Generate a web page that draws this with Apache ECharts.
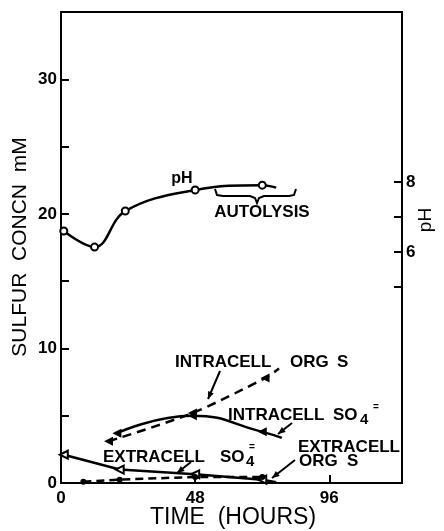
<!DOCTYPE html>
<html>
<head>
<meta charset="utf-8">
<script src="https://cdn.jsdelivr.net/npm/echarts@6/dist/echarts.min.js"></script>
<style>
  html, body { margin: 0; padding: 0; background: #fff; }
  #chart { width: 444px; height: 531px; }
</style>
</head>
<body>
<div id="chart"></div>
<script>
// values (hours, mM / pH)
const phHours = [1, 12, 23, 48, 72, 77]
const phValues = [6.6, 6.14, 7.17, 7.77, 7.91, 7.84]

const intraOrgHours = [17, 47, 73, 78]
const intraOrgValues = [3.1, 5.2, 7.8, 8.5]

const intraSo4Hours = [20, 47, 72, 79]
const intraSo4Values = [3.7, 5.0, 3.8, 3.35]

const extraSo4Hours = [1, 21, 48, 72, 77]
const extraSo4Values = [2.1, 1.0, 0.65, 0.25, 0.05]

const extraOrgHours = [8, 21, 48, 72]
const extraOrgValues = [0.1, 0.25, 0.45, 0.45]

const timeTicks = [0, 48, 96]
const sulfurLabels = [0, 10, 20, 30]
const phTicks = [5, 6, 7, 8]
const phLabels = [6, 8]

const FONT = 'Liberation Sans'

function pairs(xs, ys, lastBare) {
  return xs.map((x, i) => {
    let p = { value: [x, ys[i]] }
    if (lastBare && i === xs.length - 1) p.symbol = 'none'
    return p
  })
}

function txt(s, x, y, size, opts) {
  return Object.assign({
    type: 'text', x: x, y: y, z: 50,
    style: {
      text: s, fill: '#000',
      font: (opts && opts.weight || 'bold') + ' ' + size + 'px "' + FONT + '"',
      textAlign: (opts && opts.align) || 'left',
      textVerticalAlign: 'middle'
    }
  }, opts && opts.el || {})
}

function arrow(x1, y1, x2, y2) {
  let a = Math.atan2(y2 - y1, x2 - x1)
  let L = 8, w = 0.4
  return [
    { type: 'line', z: 50, shape: { x1: x1, y1: y1, x2: x2, y2: y2 }, style: { stroke: '#000', lineWidth: 2 } },
    { type: 'polygon', z: 50, shape: { points: [
      [x2, y2],
      [x2 - L * Math.cos(a - w), y2 - L * Math.sin(a - w)],
      [x2 - L * Math.cos(a + w), y2 - L * Math.sin(a + w)]
    ] }, style: { fill: '#000' } }
  ]
}

let chart = echarts.init(document.getElementById('chart'))

const option = {
  backgroundColor: '#fff',
  animation: false,
  grid: {
    left: 61, right: 42, top: 12, bottom: 48,
    show: true, borderColor: '#000', borderWidth: 2
  },
  xAxis: {
    type: 'value', min: 0, max: 122,
    axisLine: { show: false },
    splitLine: { show: false },
    axisTick: { show: true, inside: true, length: 8, lineStyle: { color: '#000', width: 2 }, customValues: [48, 96] },
    axisLabel: { customValues: timeTicks, color: '#000', fontFamily: FONT, fontWeight: 'bold', fontSize: 17, margin: 7 }
  },
  yAxis: [
    {
      type: 'value', min: 0, max: 35, interval: 5,
      axisLine: { show: false },
      splitLine: { show: false },
      axisTick: { show: true, inside: true, length: 8, lineStyle: { color: '#000', width: 2 } },
      axisLabel: { customValues: sulfurLabels, color: '#000', fontFamily: FONT, fontWeight: 'bold', fontSize: 17, margin: 4 }
    },
    {
      type: 'value', position: 'right', min: -0.6, max: 12.857,
      axisLine: { show: false },
      splitLine: { show: false },
      axisTick: { show: true, inside: true, length: 8, lineStyle: { color: '#000', width: 2 }, customValues: phTicks },
      axisLabel: { customValues: phLabels, color: '#000', fontFamily: FONT, fontWeight: 'bold', fontSize: 17, margin: 4 }
    }
  ],
  series: [
    {
      name: 'pH', type: 'line', yAxisIndex: 1, smooth: 0.4,
      data: pairs(phHours, phValues, true),
      symbol: 'emptyCircle', symbolSize: 7,
      lineStyle: { color: '#000', width: 2.5 },
      itemStyle: { color: '#000', borderWidth: 1.8 }
    },
    {
      name: 'Intracell org S', type: 'line', smooth: 0.3,
      data: pairs(intraOrgHours, intraOrgValues, true),
      symbol: 'triangle', symbolRotate: 90, symbolSize: 9,
      lineStyle: { color: '#000', width: 2.5, type: [9, 6] },
      itemStyle: { color: '#000' }
    },
    {
      name: 'Intracell SO4', type: 'line', smooth: 0.5,
      data: pairs(intraSo4Hours, intraSo4Values, true),
      symbol: 'triangle', symbolRotate: 90, symbolSize: 9,
      lineStyle: { color: '#000', width: 2.5 },
      itemStyle: { color: '#000' }
    },
    {
      name: 'Extracell SO4', type: 'line',
      data: pairs(extraSo4Hours, extraSo4Values, true),
      symbol: 'emptyTriangle', symbolRotate: 90, symbolSize: 8,
      lineStyle: { color: '#000', width: 2.5 },
      itemStyle: { color: '#000', borderWidth: 1.8 }
    },
    {
      name: 'Extracell org S', type: 'line',
      data: pairs(extraOrgHours, extraOrgValues, false),
      symbol: 'circle', symbolSize: 6,
      lineStyle: { color: '#000', width: 2.5, type: [8, 5] },
      itemStyle: { color: '#000' }
    }
  ],
  graphic: [
    // axis titles
    txt('SULFUR  CONCN  mM', 20, 247, 21, { weight: 'normal', align: 'center', el: { rotation: Math.PI / 2 } }),
    txt('pH', 426, 220, 19, { weight: 'normal', align: 'center', el: { rotation: Math.PI / 2 } }),
    txt('TIME  (HOURS)', 233, 518, 23, { weight: 'normal', align: 'center' }),
    // curve labels
    txt('pH', 182, 179, 16, { align: 'center' }),
    txt('AUTOLYSIS', 262, 212, 17, { align: 'center' }),
    {
      type: 'polyline', z: 50,
      shape: { points: [[215, 189], [217, 195], [223, 196], [250, 196], [255, 198], [257, 203], [259, 198], [264, 196], [289, 196], [294, 195], [296, 189]] },
      style: { stroke: '#000', lineWidth: 2, fill: null }
    },
    txt('INTRACELL', 175, 362, 17),
    txt('ORG', 290, 362, 17),
    txt('S', 337, 362, 17),
    txt('INTRACELL', 228, 415, 17),
    txt('SO', 333, 415, 17),
    txt('4', 360, 420, 15),
    txt('=', 373, 407, 10),
    txt('EXTRACELL', 103, 457, 17),
    txt('SO', 220, 457, 17),
    txt('4', 246, 462, 15),
    txt('=', 249, 447, 10),
    txt('EXTRACELL', 298, 447, 17),
    txt('ORG', 299, 461, 17),
    txt('S', 347, 461, 17)
  ].concat(
    arrow(220, 371, 208, 399),
    arrow(292, 423, 278, 434),
    arrow(191, 462, 177, 473),
    arrow(295, 460, 272, 478)
  )
}

chart.setOption(option)
</script>
</body>
</html>
